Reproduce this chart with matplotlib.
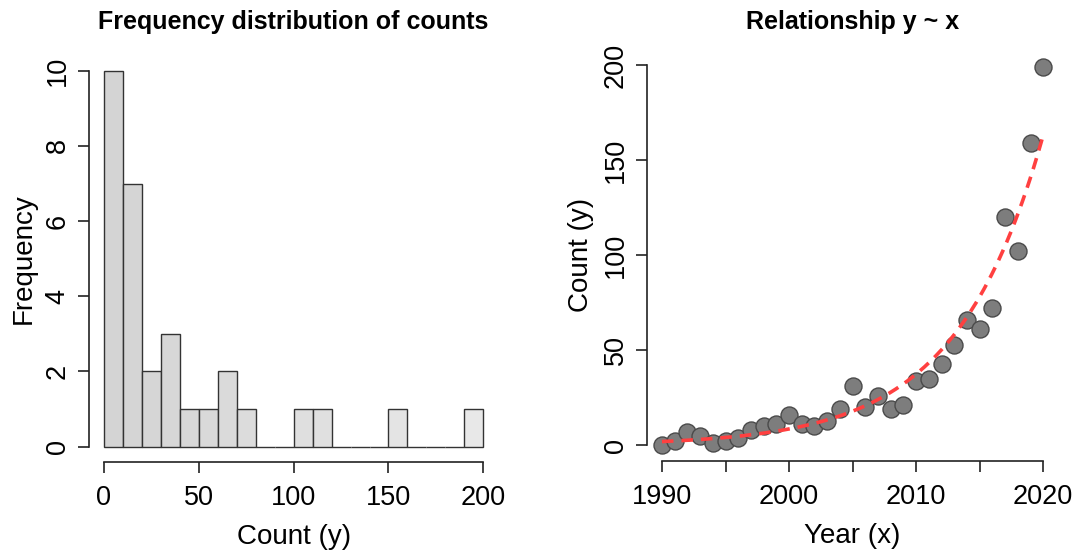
import numpy as np
import matplotlib
matplotlib.use("Agg")
import matplotlib.pyplot as plt

# ---- data ----
years = list(range(1990, 2021))
counts = [0, 2, 7, 5, 1, 2, 4, 8, 10, 11, 16, 11, 10, 13, 19, 31, 20, 26, 19, 21,
          34, 35, 43, 53, 66, 61, 72, 120, 102, 159, 199]
hist_breaks = list(range(0, 210, 10))
left_xticks = [0, 50, 100, 150, 200]
left_yticks = [0, 2, 4, 6, 8, 10]
right_xticks = [1990, 1995, 2000, 2005, 2010, 2015, 2020]
right_xticklabels = ["1990", "", "2000", "", "2010", "", "2020"]
right_yticks = [0, 50, 100, 150, 200]

x = np.array(years, dtype=float)
y = np.array(counts, dtype=float)
edges = np.array(hist_breaks, dtype=float)

# right-closed histogram (R style, include.lowest)
freq = []
for i in range(len(edges) - 1):
    lo, hi = edges[i], edges[i + 1]
    if i == 0:
        freq.append(int(np.sum((y >= lo) & (y <= hi))))
    else:
        freq.append(int(np.sum((y > lo) & (y <= hi))))

# Poisson GLM fit log(mu) = a + b*x via IRLS
X = np.column_stack([np.ones_like(x), x - 1990])
beta = np.array([np.log(y.mean() + 0.5), 0.0])
for _ in range(100):
    eta = X @ beta
    mu = np.exp(eta)
    z = eta + (y - mu) / mu
    W = mu
    beta_new = np.linalg.solve(X.T @ (W[:, None] * X), X.T @ (W * z))
    if np.max(np.abs(beta_new - beta)) < 1e-10:
        beta = beta_new
        break
    beta = beta_new
xf = np.linspace(1990, 2020, 200)
yf = np.exp(beta[0] + beta[1] * (xf - 1990))

plt.rcParams['font.family'] = ['Liberation Sans', 'DejaVu Sans']

W_PX, H_PX = 1084, 553
fig = plt.figure(figsize=(W_PX / 100, H_PX / 100), dpi=100)

def axes_px(x0, y0, x1, y1):
    return fig.add_axes([x0 / W_PX, 1 - y1 / H_PX, (x1 - x0) / W_PX, (y1 - y0) / H_PX])

TICK_FS = 19.5
LAB_FS = 20
TITLE_FS = 18

def r_style(ax, xb, yb):
    for s in ['top', 'right']:
        ax.spines[s].set_visible(False)
    ax.spines['left'].set_bounds(*yb)
    ax.spines['bottom'].set_bounds(*xb)
    for s in ['left', 'bottom']:
        ax.spines[s].set_linewidth(1.2)
        ax.spines[s].set_color('#222222')
    ax.tick_params(axis='both', length=8, width=1.2, color='#222222',
                   labelsize=TICK_FS)
    ax.tick_params(axis='x', pad=9)
    ax.tick_params(axis='y', pad=5)
    for lab in ax.get_yticklabels():
        lab.set_rotation(90)
        lab.set_va('center')

# ---- left: histogram ----
ax1 = axes_px(88.8, 55.7, 498.5, 461.7)
n = len(freq)
cols = [plt.cm.gray(0.83 + 0.08 * i / (n - 1)) for i in range(n)]
ax1.bar(edges[:-1], freq, width=10, align='edge', color=cols,
        edgecolor='#333333', linewidth=1.0)
ax1.set_xlim(-8, 208)
ax1.set_ylim(-0.4, 10.4)
ax1.set_xticks(left_xticks)
ax1.set_yticks(left_yticks)
r_style(ax1, (0, 200), (0, 10))
ax1.set_xlabel("Count (y)", fontsize=LAB_FS, labelpad=9)
ax1.set_ylabel("Frequency", fontsize=LAB_FS, labelpad=6)
ax1.set_title("Frequency distribution of counts", fontsize=TITLE_FS,
              fontweight='bold', pad=19)

# ---- right: scatter with fitted curve ----
ax2 = axes_px(646.7, 49.8, 1058.5, 460.5)
ax2.scatter(x, y, s=150, c='#7d7d7d', edgecolors='#4a4a4a', linewidths=1.0, zorder=2)
ax2.plot(xf, yf, color='#ff4040', linestyle=(0, (3.2, 2.2)), linewidth=2.6, zorder=3)
ax2.set_xlim(1988.8, 2021.2)
ax2.set_ylim(-8, 208)
ax2.set_xticks(right_xticks)
ax2.set_xticklabels(right_xticklabels)
ax2.set_yticks(right_yticks)
r_style(ax2, (1990, 2020), (0, 200))
ax2.set_xlabel("Year (x)", fontsize=LAB_FS, labelpad=9)
ax2.set_ylabel("Count (y)", fontsize=LAB_FS, labelpad=6)
ax2.set_title("Relationship y ~ x", fontsize=TITLE_FS, fontweight='bold', pad=15)

fig.savefig("out.png", dpi=100)
